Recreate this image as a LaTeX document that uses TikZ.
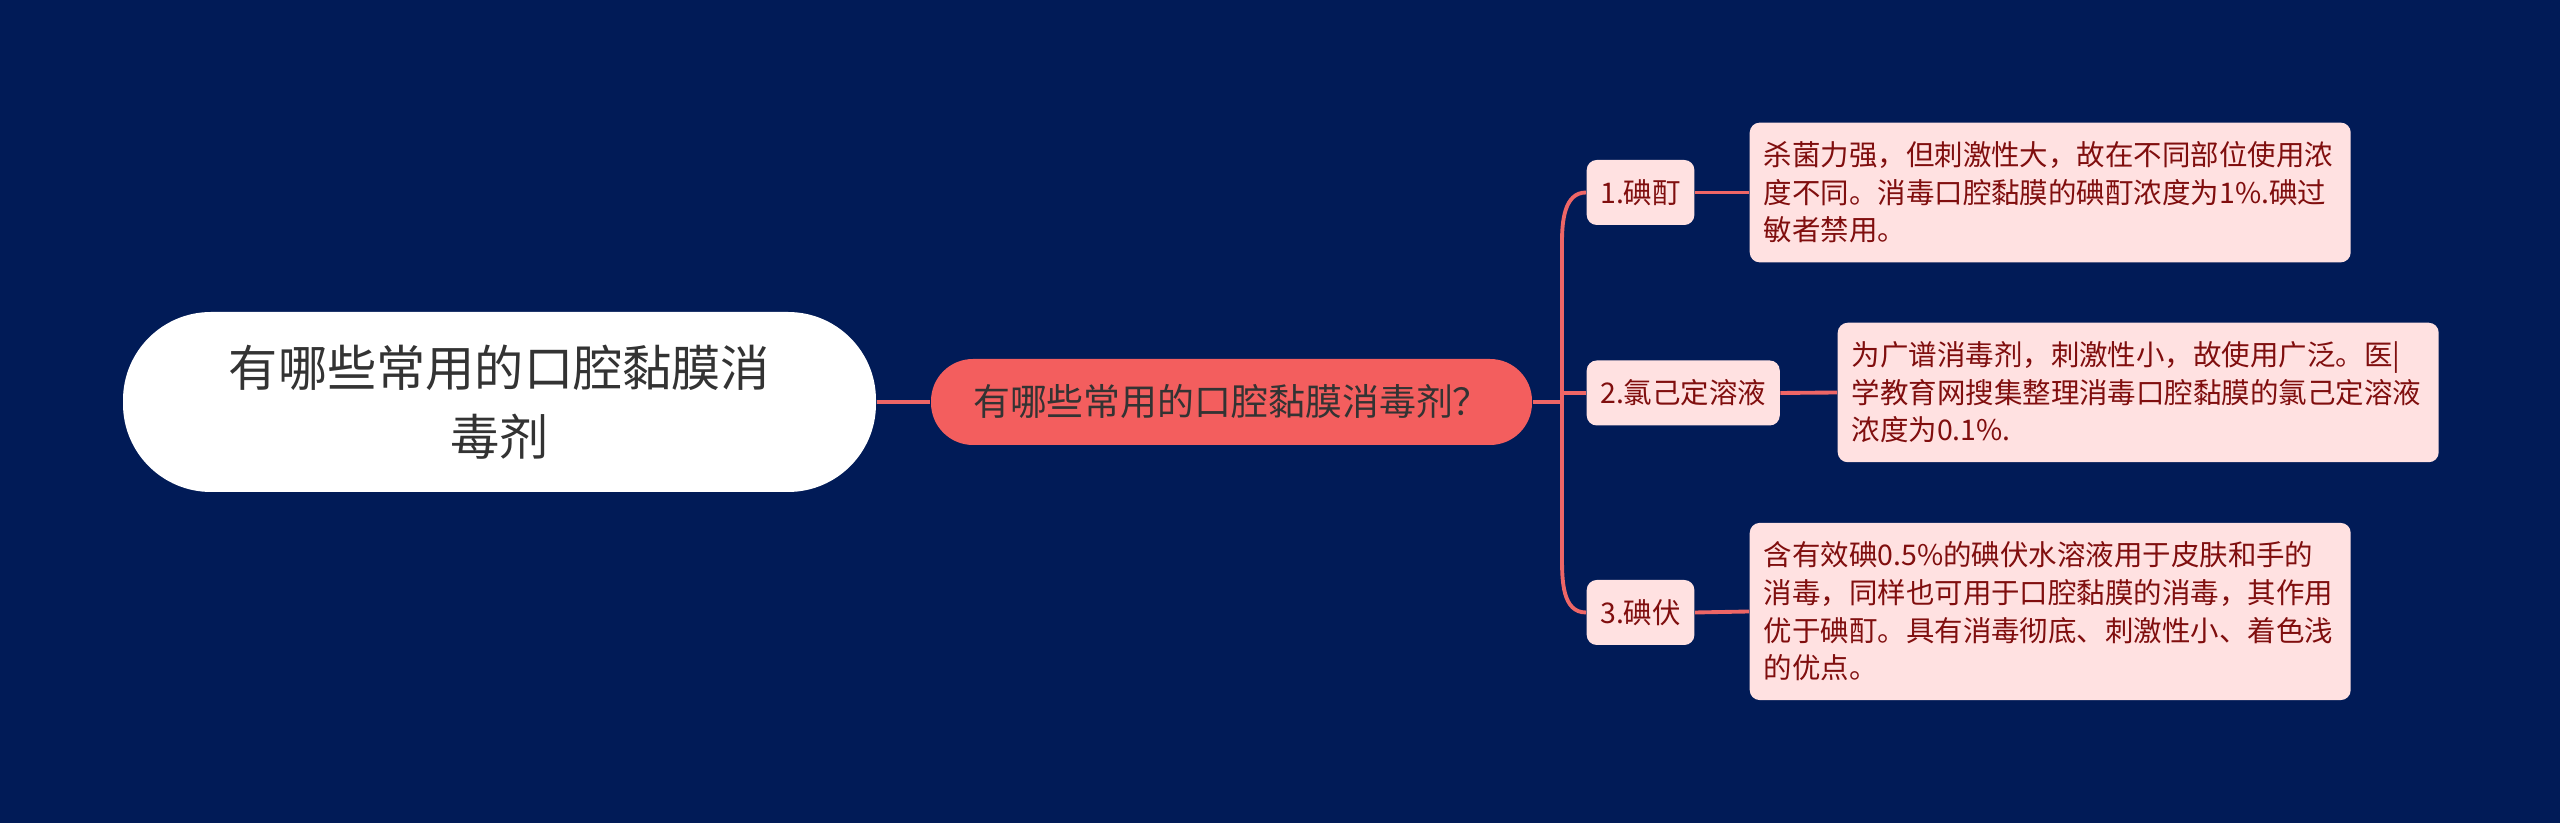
\documentclass[tikz,border=0pt]{standalone}
\usepackage{fontspec}
\setmainfont{Noto Sans CJK SC}
\usetikzlibrary{positioning, calc}
\definecolor{navybg}{RGB}{1,27,87}
\definecolor{coral}{RGB}{243,94,94}
\definecolor{linkred}{RGB}{238,102,102}
\definecolor{pinkfill}{RGB}{255,225,225}
\definecolor{darkred}{RGB}{128,14,14}
\definecolor{darkgrey}{RGB}{51,51,51}
\tikzset{
  rootnd/.style={rectangle, fill=white, text=darkgrey,
    rounded corners=0.88cm, minimum width=7.53cm, minimum height=1.8cm,
    align=center, font=\fontsize{14pt}{19.5pt}\selectfont, inner sep=0pt},
  mainnd/.style={rectangle, fill=coral, text=darkgrey,
    rounded corners=0.42cm, minimum width=6.01cm, minimum height=0.86cm,
    font=\fontsize{10.5pt}{12pt}\selectfont, inner sep=0pt},
  subnd/.style={rectangle, fill=pinkfill, text=darkred,
    rounded corners=0.1cm, minimum height=0.65cm,
    inner xsep=0.135cm, inner ysep=0pt,
    font=\fontsize{8.1pt}{10.7pt}\selectfont},
  leafnd/.style={subnd, text width=5.73cm, align=left,
    inner xsep=0.14cm, inner ysep=0.19cm},
  lnk/.style={draw=linkred, line width=1.1pt},
}

\begin{document}
\begin{tikzpicture}

  % -- Background --
  \fill[navybg] (0,0) rectangle (25.6,8.23);
  \useasboundingbox (0,0) rectangle (25.6,8.23);

  % -- Root and main topic --
  \node[rootnd] (root) at (4.995,4.21) {有哪些常用的口腔黏膜消\\毒剂};
  \node[mainnd] (main) at (12.315,4.21) {有哪些常用的口腔黏膜消毒剂？};
  \coordinate (fork) at (15.62,4.21);

  % -- Sub topics --
  \node[subnd, anchor=west] (iodtinc) at (15.86,6.305) {1.碘酊};
  \node[subnd, anchor=west] (chlorhex) at (15.86,4.30) {2.氯己定溶液};
  \node[subnd, anchor=west] (povidone) at (15.86,2.105) {3.碘伏};

  % -- Notes --
  \node[leafnd, anchor=west] (iodnote) at (17.49,6.305)
       {杀菌力强，但刺激性大，故在不同部位使用浓\\
        度不同。消毒口腔黏膜的碘酊浓度为1\%.碘过\\
        敏者禁用。};
  \node[leafnd, anchor=west] (chlnote) at (18.37,4.305)
       {为广谱消毒剂，刺激性小，故使用广泛。医|\\
        学教育网搜集整理消毒口腔黏膜的氯己定溶液\\
        浓度为0.1\%.};
  \node[leafnd, anchor=west] (povnote) at (17.49,2.115)
       {含有效碘0.5\%的碘伏水溶液用于皮肤和手的\\
        消毒，同样也可用于口腔黏膜的消毒，其作用\\
        优于碘酊。具有消毒彻底、刺激性小、着色浅\\
        的优点。};

  % Connecting lines
  \draw[lnk] (root.east) -- (main.west);
  \draw[lnk] (main.east) -- (fork);
  \draw[lnk] (fork) -- ++(0,1.6) to[out=90,in=180] (iodtinc.west);
  \draw[lnk] (fork) -- (fork |- chlorhex.west) -- (chlorhex.west);
  \draw[lnk] (fork) -- ++(0,-1.55) to[out=-90,in=180] (povidone.west);
  \draw[lnk] (iodtinc.east) -- (iodnote.west);
  \draw[lnk] (chlorhex.east) -- (chlnote.west);
  \draw[lnk] (povidone.east) -- (povnote.west);
\end{tikzpicture}
\end{document}
